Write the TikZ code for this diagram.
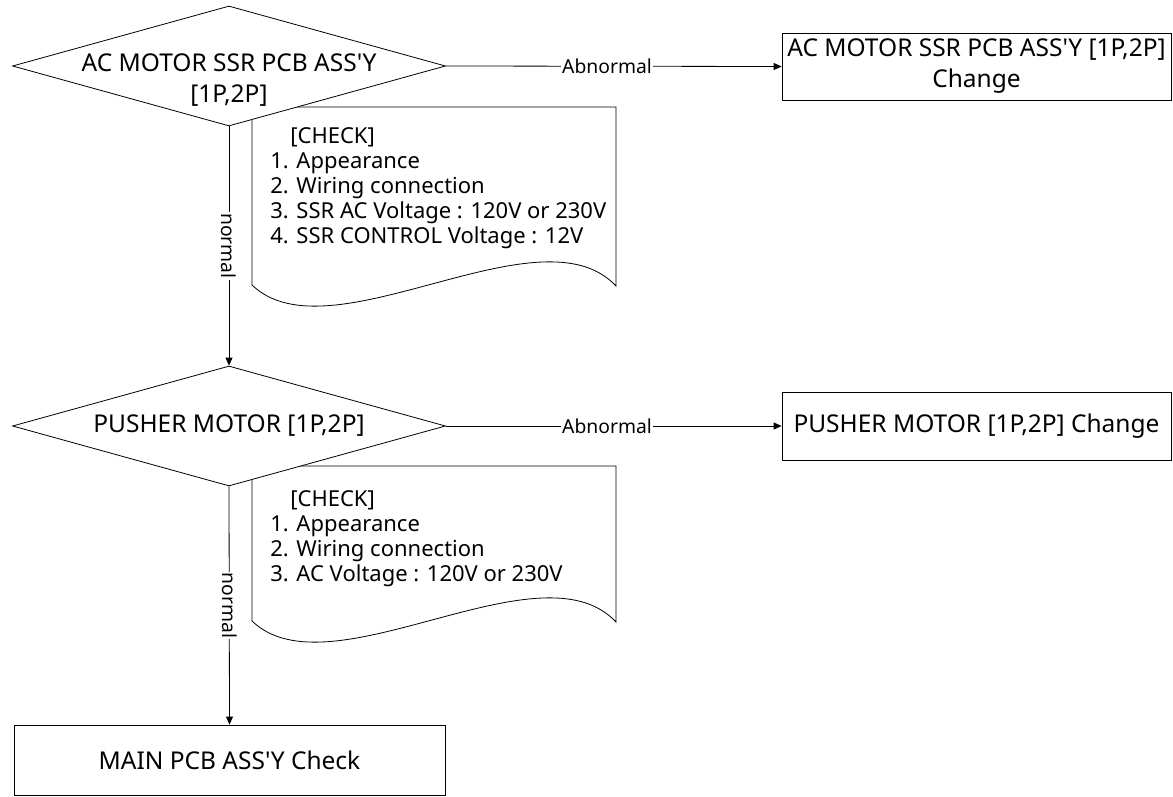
\documentclass[tikz,border=0pt]{standalone}
\usepackage{fontspec}
\setmainfont{Noto Sans}[Ligatures=TeXOff]
\usetikzlibrary{arrows.meta,shapes.geometric}
\begin{document}
\begin{tikzpicture}[x=1pt,y=-1pt,line width=0.8pt,
  big/.style={font=\fontsize{24.5}{31}\selectfont},
  lst/.style={font=\fontsize{22}{25}\selectfont, align=left, inner sep=0pt, anchor=north west},
  lbl/.style={font=\fontsize{19.3}{21}\selectfont, fill=white, inner sep=1pt},
  decision/.style={draw, fill=white, shape=diamond, inner sep=0pt, minimum width=433pt, minimum height=120pt},
  actbox/.style={draw, fill=white, inner sep=0pt, align=center},
  doc/.style={draw, fill=white},
  arr/.style={-{Triangle[length=8pt,width=7pt]}}]
\useasboundingbox (0,0) rectangle (1173,797);
% document shapes (drawn first, diamonds overlap them)
\draw[doc] (252,107) -- (616,107) -- (616,286) .. controls (540,205) and (330,360) .. (252,285) -- cycle;
\node[lst] (c1) at (270,127.5) {\hspace{20pt}[CHECK]\\1. Appearance\\2. Wiring connection\\3. SSR AC Voltage : 120V or 230V\\4. SSR CONTROL Voltage : 12V};
\draw[doc] (252,466) -- (616,466) -- (616,622) .. controls (540,541) and (330,696) .. (252,621) -- cycle;
\node[lst] (c2) at (270,490) {\hspace{20pt}[CHECK]\\1. Appearance\\2. Wiring connection\\3. AC Voltage : 120V or 230V};
% decisions
\node[decision] (d1) at (229,66) {};
\node[big, align=center] (t1) at (229,80) {AC MOTOR SSR PCB ASS'Y\\{}[1P,2P]};
\node[decision] (d2) at (229,426) {};
\node[big] (t2) at (229,426) {PUSHER MOTOR [1P,2P]};
% action boxes
\node[actbox, big, minimum width=389pt, minimum height=67pt] (b1) at (976.5,66.5) {AC MOTOR SSR PCB ASS'Y [1P,2P]\\Change};
\node[actbox, big, minimum width=389pt, minimum height=68pt] (b2) at (976.5,426) {PUSHER MOTOR [1P,2P] Change};
\node[actbox, big, minimum width=431pt, minimum height=70pt] (b3) at (229.5,760) {MAIN PCB ASS'Y Check};
% connectors
\draw[arr] (d1.east) -- node[lbl, pos=0.48] {Abnormal} (b1.west);
\draw[arr] (d2.east) -- node[lbl, pos=0.48] {Abnormal} (b2.west);
\draw[arr] (d1.south) -- node[lbl, rotate=-90] {normal} (d2.north);
\draw[arr] (d2.south) -- node[lbl, rotate=-90] {normal} (b3.north);
\end{tikzpicture}
\end{document}
